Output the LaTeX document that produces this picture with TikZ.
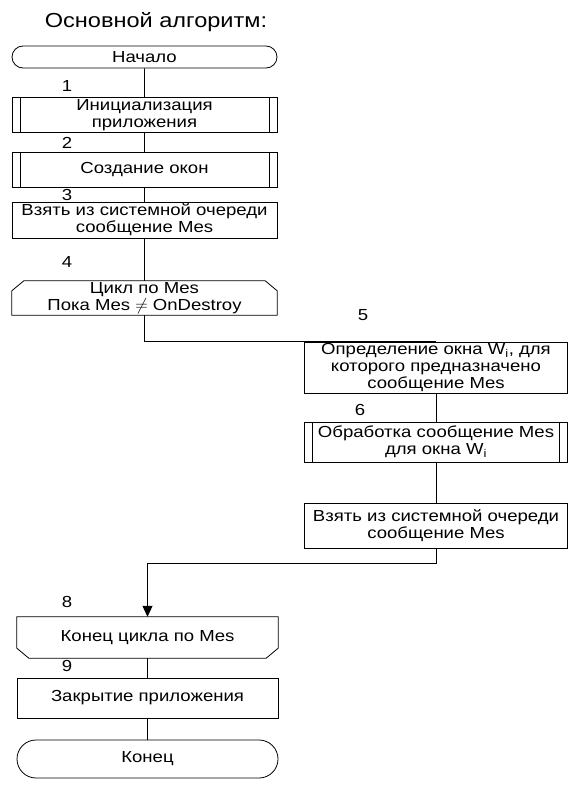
\documentclass[tikz,border=0pt]{standalone}
\usepackage{fontspec}
\setmainfont{Liberation Sans}[FakeStretch=1.16]
\usetikzlibrary{arrows.meta}
\usetikzlibrary{positioning}
\usetikzlibrary{shapes.misc}

\tikzset{
  txt/.style={rectangle, align=center, inner sep=0pt, font=\fontsize{16}{17}\selectfont},
  blk/.style={txt, draw, line width=0.8pt},
  subblk/.style={blk, path picture={
      \draw[line width=0.8pt] ([xshift=8pt]path picture bounding box.north west) -- ([xshift=8pt]path picture bounding box.south west);
      \draw[line width=0.8pt] ([xshift=-8pt]path picture bounding box.north east) -- ([xshift=-8pt]path picture bounding box.south east);}},
  term/.style={blk, rounded rectangle},
  num/.style={font=\fontsize{16}{17}\selectfont},
  link/.style={line width=0.8pt},
}

\begin{document}
\begin{tikzpicture}[x=1pt, y=-1pt]
	\useasboundingbox (0,0) rectangle (573,789);
	% title
	\node[font=\fontsize{20.3}{23}\selectfont] (ttl) at (156,22) {Основной алгоритм:};
	% left column
	\node[term, minimum width=265pt, minimum height=22pt] (start) at (144.5,57) {Начало};
	\node[subblk, minimum width=265pt, minimum height=35pt] (init) at (144.5,115) {Инициализация\\приложения};
	\node[subblk, minimum width=265pt, minimum height=35pt] (wins) at (144.5,169.5) {Создание окон};
	\node[blk, minimum width=265pt, minimum height=36pt] (get1) at (144.5,220) {Взять из системной очереди\\сообщение Mes};
	\node[txt, minimum width=265pt, minimum height=34pt] (cycbeg) at (144.5,298) {Цикл по Mes\\Пока Mes $\neq$ OnDestroy};
	\draw[link] ([yshift=-10pt]cycbeg.north west) -- ([xshift=12pt]cycbeg.north west) -- ([xshift=-12pt]cycbeg.north east) -- ([yshift=-10pt]cycbeg.north east) -- (cycbeg.south east) -- (cycbeg.south west) -- cycle;
	% right column
	\node[blk, minimum width=263pt, minimum height=51pt] (find) at (436,367.5) {Определение окна W\textsubscript{i}, для\\которого предназначено\\сообщение Mes};
	\node[subblk, minimum width=263pt, minimum height=40pt] (proc) at (436,442) {Обработка сообщение Mes\\для окна W\textsubscript{i}};
	\node[blk, minimum width=263pt, minimum height=45pt] (get2) at (436,525.5) {Взять из системной очереди\\сообщение Mes};
	% lower column
	\node[txt, minimum width=261pt, minimum height=41pt] (cycend) at (147.5,637.5) {Конец цикла по Mes};
	\draw[link] (cycend.north west) -- (cycend.north east) -- ([yshift=10pt]cycend.south east) -- ([xshift=-12pt]cycend.south east) -- ([xshift=12pt]cycend.south west) -- ([yshift=10pt]cycend.south west) -- cycle;
	\node[blk, minimum width=261pt, minimum height=40pt] (close) at (147.5,698) {Закрытие приложения};
	\node[term, minimum width=261pt, minimum height=38pt] (fin) at (147.5,759) {Конец};
	% numbers
	\node[num] (n1) at (67,86) {1};
	\node[num] (n2) at (67,143) {2};
	\node[num] (n3) at (67,195) {3};
	\node[num] (n4) at (67,262) {4};
	\node[num] (n5) at (363,315) {5};
	\node[num] (n6) at (360,410) {6};
	\node[num] (n8) at (67,602) {8};
	\node[num] (n9) at (67,666) {9};
	% connectors
	\draw[link] (start) -- (init);
	\draw[link] (init) -- (wins);
	\draw[link] (wins) -- (get1);
	\draw[link] (get1) -- (cycbeg);
	\draw[link] (cycbeg.south) |- (find.north);
	\draw[link] (find) -- (proc);
	\draw[link] (proc) -- (get2);
	\coordinate (back) at (436,563);
	\draw[link, -{Triangle[length=11pt, width=10pt]}] (get2.south) -- (back) -| (cycend.north);
	\draw[link] (cycend) -- (close);
	\draw[link] (close) -- (fin);
\end{tikzpicture}
\end{document}
